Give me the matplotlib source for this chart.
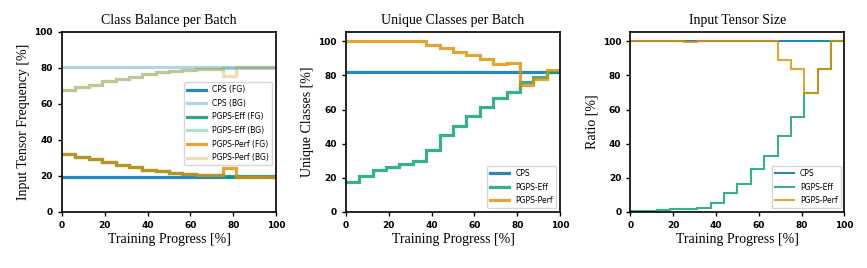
import matplotlib.pyplot as plt

# Colores (paleta colorblind de seaborn)
AZUL = '#0173B2'
VERDE = '#029E73'
NARANJA = '#DE8F05'

# Bordes de las 16 etapas del entrenamiento [%]
etapas = [0, 6.25, 12.5, 18.75, 25, 31.25, 37.5, 43.75, 50, 56.25,
          62.5, 68.75, 75, 81.25, 87.5, 93.75, 100]

# Panel 1: balance de clases (FG) por etapa
cps_fg = [19.5] * 16
eff_fg = [32, 30.5, 29.5, 27.5, 26, 25, 23.5, 22.5, 21.5, 21, 20.5, 20.5, 20, 20, 20, 20]
perf_fg = [32, 30.5, 29.5, 27.5, 26, 25, 23.5, 22.5, 21.5, 21, 20.5, 20.5, 24.5, 19.5, 19.5, 19.5]

# Panel 2: clases únicas por lote
cps_unicas = [82] * 16
eff_unicas = [17.5, 21, 24.5, 26.5, 28, 30, 36.5, 45, 50.5, 56.5, 61.5, 66.5, 70.5, 76, 79, 82]
perf_unicas = [100, 100, 100, 100, 100, 100, 98, 96, 94, 92, 89.5, 86.5, 87, 74.5, 78, 83]

# Panel 3: tamaño del tensor de entrada
cps_tam = [100] * 16
eff_tam = [0.3, 0.6, 1.0, 1.5, 1.9, 2.5, 5.5, 11, 16.5, 25, 33, 44.5, 55.5, 69.5, 83.5, 100]
perf_tam = [100, 100, 100, 100, 99.5, 100, 100, 100, 100, 100, 100, 89, 83.5, 69.5, 83.5, 100]

SERIF = 'Liberation Serif'
plt.rcParams['font.family'] = 'DejaVu Sans'
plt.rcParams['axes.linewidth'] = 1.2

fig = plt.figure(figsize=(8.67, 2.68), dpi=100)
izq = [0.0715, 0.399, 0.727]
ejes = [fig.add_axes([x, 0.209, 0.247, 0.672]) for x in izq]


def estilo(ax, titulo, ylabel, ymax):
    ax.set_xlim(0, 100)
    ax.set_ylim(0, ymax)
    ax.set_xticks([0, 20, 40, 60, 80, 100])
    ax.set_yticks([0, 20, 40, 60, 80, 100])
    ax.tick_params(labelsize=6.5, length=3, width=1)
    for t in ax.get_xticklabels() + ax.get_yticklabels():
        t.set_fontweight('semibold')
    ax.set_title(titulo, fontsize=10, family=SERIF, pad=6)
    ax.set_xlabel('Training Progress [%]', fontsize=10, family=SERIF, labelpad=2)
    ax.set_ylabel(ylabel, fontsize=10, family=SERIF, labelpad=3)


def escalera(ax, valores, color, lw, alpha, label):
    ax.stairs(valores, etapas, baseline=None, color=color, lw=lw, alpha=alpha, label=label)


# Panel 1
ax = ejes[0]
escalera(ax, cps_fg, AZUL, 2.3, 0.85, 'CPS (FG)')
escalera(ax, [100 - v for v in cps_fg], AZUL, 2.3, 0.3, 'CPS (BG)')
escalera(ax, eff_fg, VERDE, 2.3, 0.85, 'PGPS-Eff (FG)')
escalera(ax, [100 - v for v in eff_fg], VERDE, 2.3, 0.3, 'PGPS-Eff (BG)')
escalera(ax, perf_fg, NARANJA, 2.3, 0.8, 'PGPS-Perf (FG)')
escalera(ax, [100 - v for v in perf_fg], NARANJA, 2.3, 0.3, 'PGPS-Perf (BG)')
estilo(ax, 'Class Balance per Batch', 'Input Tensor Frequency [%]', 100)
ax.legend(loc='center right', fontsize=5.5, handlelength=2.5, labelspacing=0.6,
          bbox_to_anchor=(1.0, 0.49))

# Panel 2
ax = ejes[1]
escalera(ax, cps_unicas, AZUL, 2.3, 0.85, 'CPS')
escalera(ax, eff_unicas, VERDE, 2.3, 0.8, 'PGPS-Eff')
escalera(ax, perf_unicas, NARANJA, 2.3, 0.8, 'PGPS-Perf')
estilo(ax, 'Unique Classes per Batch', 'Unique Classes [%]', 105.5)
ax.legend(loc='lower right', fontsize=5.5, handlelength=2.5, labelspacing=0.6)

# Panel 3
ax = ejes[2]
escalera(ax, cps_tam, AZUL, 1.5, 0.85, 'CPS')
escalera(ax, eff_tam, VERDE, 1.5, 0.8, 'PGPS-Eff')
escalera(ax, perf_tam, NARANJA, 1.5, 0.8, 'PGPS-Perf')
estilo(ax, 'Input Tensor Size', 'Ratio [%]', 105.5)
ax.legend(loc='lower right', fontsize=5.5, handlelength=2.5, labelspacing=0.6)

fig.savefig('out.png', dpi=100)
